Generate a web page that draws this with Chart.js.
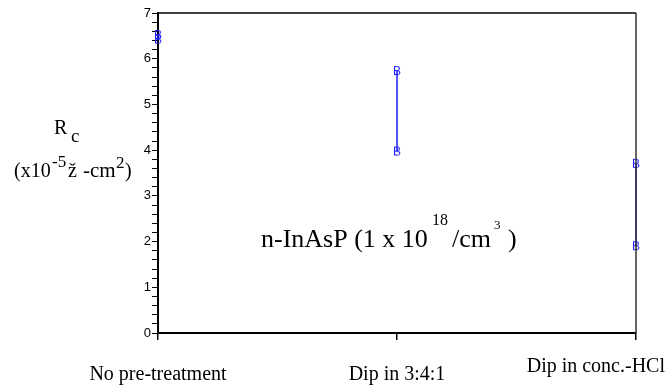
<!DOCTYPE html>
<html>
<head>
<meta charset="utf-8">
<script src="https://cdn.jsdelivr.net/npm/chart.js@4/dist/chart.umd.min.js"></script>
<style>
  html,body{margin:0;padding:0;background:#fff;}
  #wrap{width:667px;height:386px;position:relative;}
</style>
</head>
<body>
<div id="wrap"><canvas id="c"></canvas></div>
<script>
// values
const categories = ['No pre-treatment', 'Dip in 3:4:1', 'Dip in conc.-HCl'];
const rcHigh = [6.52, 5.73, 3.70];
const rcLow = [6.42, 3.97, 1.90];
const yMin = 0, yMax = 7;

// "B" marker like the original plot symbol
const bMark = document.createElement('canvas');
bMark.width = 10; bMark.height = 12;
(function(){
  const g = bMark.getContext('2d');
  g.font = '12px "Liberation Sans"';
  g.fillStyle = '#1f1fff';
  g.textAlign = 'center';
  g.textBaseline = 'middle';
  g.fillText('B', 5, 6.5);
})();

const datasets = categories.map((c, i) => ({
  label: c,
  data: [{x:i, y:rcHigh[i]}, {x:i, y:rcLow[i]}],
  borderColor: '#1a1aff',
  borderWidth: 1.5,
  pointStyle: bMark,
  pointRadius: 5,
  clip: false
}));

// draw text pieces at fixed x offsets: [text, font, x, dy]
function pieces(ctx, parts, y){
  for(const p of parts){
    ctx.font = p[1];
    ctx.fillText(p[0], p[2], y + (p[3]||0));
  }
}

const serif = s => s + 'px "Liberation Serif"';

const extras = {
  id:'extras',
  afterDraw(chart){
    const {ctx, chartArea:a, scales} = chart;
    ctx.save();
    // top and right frame
    ctx.strokeStyle = '#000';
    ctx.lineWidth = 1.5;
    ctx.beginPath();
    ctx.moveTo(a.left, a.top); ctx.lineTo(a.right, a.top);
    ctx.stroke();
    ctx.strokeStyle = '#333';
    ctx.beginPath();
    ctx.moveTo(a.right, a.top); ctx.lineTo(a.right, a.bottom);
    ctx.stroke();

    ctx.fillStyle = '#000';
    ctx.textBaseline = 'alphabetic';
    // category labels
    ctx.font = serif(20);
    categories.forEach((c, i) => {
      let x = scales.x.getPixelForValue(i);
      const w = ctx.measureText(c).width;
      let y = a.bottom + 47;
      if (x + w/2 > chart.width - 2) { x = chart.width - 2 - w/2; y = a.bottom + 39; }
      ctx.textAlign = 'center';
      ctx.fillText(c, x, y);
    });

    // y title
    ctx.textAlign = 'left';
    pieces(ctx, [['R', serif(20), 54, 0], ['c', serif(19), 71, 8]], 134);
    pieces(ctx, [['(x10', serif(20), 14, 0], ['-5', serif(17), 52, -10],
                 ['\u017e', serif(20), 68, 0], ['-cm', serif(21), 83, 0],
                 ['2', serif(17), 116, -9], [')', serif(20), 125, 0]], 177);

    // annotation
    pieces(ctx, [['n-InAsP (1 x 10', serif(26), 261, 0], ['18', serif(16), 432, -22],
                 ['/cm', serif(26), 452, 0], ['3', serif(13), 494, -18],
                 [')', serif(26), 508, 0]], 247);
    ctx.restore();
  }
};

new Chart(document.getElementById('c'), {
  type:'line',
  data:{datasets},
  plugins:[extras],
  options:{
    responsive:true,
    maintainAspectRatio:false,
    animation:false,
    layout:{padding:{left:0, top:13, right:31, bottom:0}},
    plugins:{legend:{display:false}, tooltip:{enabled:false}},
    scales:{
      x:{
        type:'linear', min:0, max:categories.length-1,
        ticks:{display:false, stepSize:1},
        grid:{drawOnChartArea:false, tickLength:7, color:'#000', lineWidth:1.5},
        border:{color:'#000', width:2},
        afterFit(s){ s.height = 53; }
      },
      y:{
        min:yMin, max:yMax,
        ticks:{stepSize:0.2, autoSkip:false, padding:1, color:'#000',
          font:{family:'"Liberation Sans"', size:13},
          callback:v => Math.abs(v - Math.round(v)) < 1e-6 ? Math.round(v) : ''},
        grid:{drawOnChartArea:false, tickLength:6, color:'#000', lineWidth:1},
        border:{color:'#000', width:2},
        afterFit(s){ s.width = 158; }
      }
    }
  }
});
</script>
</body>
</html>
